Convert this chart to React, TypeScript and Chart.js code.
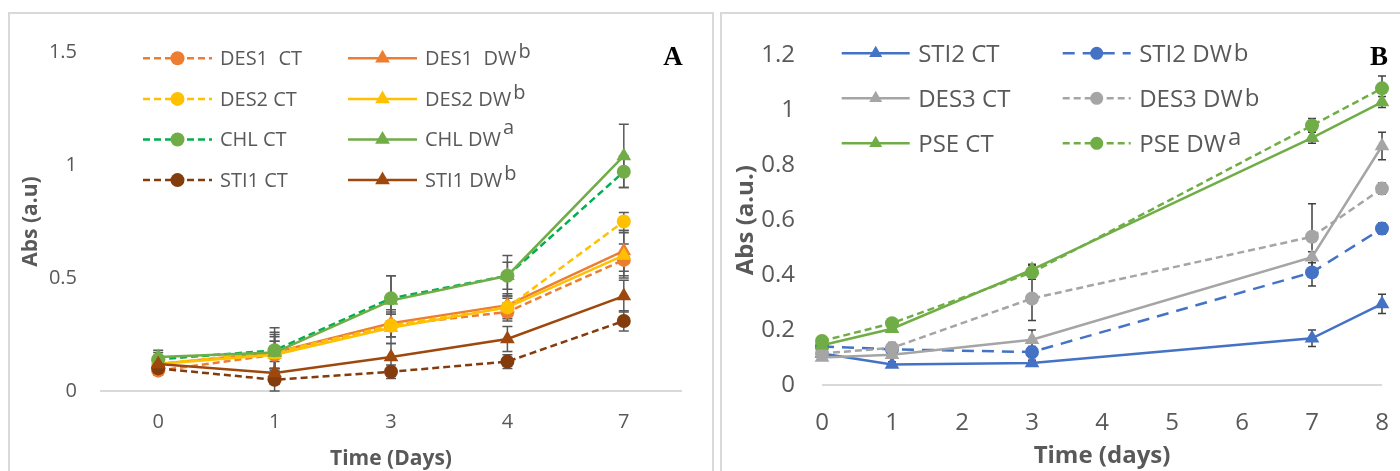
import React, { useEffect, useRef } from 'react';
import { Chart, registerables } from 'chart.js';

Chart.register(...registerables);

// ---------- Panel A data ----------
const daysA = ['0', '1', '3', '4', '7'];
const yTicksA = ['0', '0.5', '1', '1.5'];
const des1CT = [0.09, 0.16, 0.29, 0.35, 0.58];
const des1DW = [0.12, 0.17, 0.30, 0.38, 0.62];
const des2CT = [0.12, 0.17, 0.29, 0.37, 0.75];
const des2DW = [0.12, 0.16, 0.28, 0.37, 0.60];
const chlCT = [0.14, 0.18, 0.41, 0.51, 0.97];
const chlDW = [0.15, 0.17, 0.40, 0.51, 1.04];
const sti1CT = [0.10, 0.05, 0.085, 0.13, 0.31];
const sti1DW = [0.12, 0.08, 0.15, 0.23, 0.42];

const errDes1CT = [0.02, 0.06, 0.05, 0.04, 0.07];
const errDes1DW = [0.02, 0.07, 0.06, 0.05, 0.09];
const errDes2CT = [0.02, 0.08, 0.05, 0.04, 0.04];
const errDes2DW = [0.02, 0.06, 0.07, 0.05, 0.10];
const errChlCT = [0.03, 0.10, 0.10, 0.06, 0.07];
const errChlDW = [0.03, 0.09, 0.11, 0.09, 0.14];
const errSti1CT = [0.02, 0.05, 0.03, 0.03, 0.045];
const errSti1DW = [0.02, 0.05, 0.06, 0.055, 0.07];

const labelsA = ['DES1  CT', 'DES1  DW', 'DES2 CT', 'DES2 DW', 'CHL CT', 'CHL DW', 'STI1 CT', 'STI1 DW'];
const supsA = ['', 'b', '', 'b', '', 'a', '', 'b'];

// ---------- Panel B data ----------
const xB = [0, 1, 3, 7, 8];
const xTicksB = ['0', '1', '2', '3', '4', '5', '6', '7', '8'];
const yTicksB = ['0', '0.2', '0.4', '0.6', '0.8', '1', '1.2'];
const sti2CT = [0.115, 0.075, 0.08, 0.17, 0.295];
const sti2DW = [0.14, 0.13, 0.12, 0.41, 0.57];
const des3CT = [0.10, 0.11, 0.165, 0.465, 0.87];
const des3DW = [0.115, 0.135, 0.315, 0.54, 0.715];
const pseCT = [0.145, 0.205, 0.42, 0.90, 1.03];
const pseDW = [0.16, 0.225, 0.41, 0.945, 1.08];

const errSti2CT = [0.01, 0.01, 0.01, 0.03, 0.035];
const errSti2DW = [0.01, 0.01, 0.02, 0.05, 0.02];
const errDes3CT = [0.01, 0.01, 0.035, 0.02, 0.05];
const errDes3DW = [0.01, 0.02, 0.08, 0.12, 0.02];
const errPseCT = [0.01, 0.01, 0.02, 0.02, 0.02];
const errPseDW = [0.01, 0.01, 0.025, 0.025, 0.045];

const labelsB = ['STI2 CT', 'STI2 DW', 'DES3 CT', 'DES3 DW', 'PSE CT', 'PSE DW'];
const supsB = ['', 'b', '', 'b', '', 'a'];

const FONT = '"Open Sans", sans-serif';
const TXT = '#595959';

function drawMarker(ctx: CanvasRenderingContext2D, style: string, x: number, y: number, r: number, color: string) {
  ctx.fillStyle = color;
  ctx.beginPath();
  if (style === 'triangle') {
    ctx.moveTo(x, y - r);
    ctx.lineTo(x + r * Math.sin((2 * Math.PI) / 3), y - r * Math.cos((2 * Math.PI) / 3));
    ctx.lineTo(x + r * Math.sin((4 * Math.PI) / 3), y - r * Math.cos((4 * Math.PI) / 3));
    ctx.closePath();
  } else {
    ctx.arc(x, y, r, 0, Math.PI * 2);
  }
  ctx.fill();
}

const panelLegend = {
  id: 'panelLegend',
  afterDraw(chart: any, _a: any, opts: any) {
    if (!opts || !opts.items) return;
    const ctx: CanvasRenderingContext2D = chart.ctx;
    ctx.save();
    opts.items.forEach((dsIndex: number, i: number) => {
      const ds = chart.data.datasets[dsIndex];
      const col = Math.floor(i / opts.rows);
      const row = i % opts.rows;
      const x0 = opts.colX[col];
      const y = opts.top + row * opts.rowGap;
      ctx.strokeStyle = ds.borderColor;
      ctx.lineWidth = ds.borderWidth;
      ctx.setLineDash(ds.borderDash || []);
      ctx.beginPath();
      ctx.moveTo(x0, y);
      ctx.lineTo(x0 + opts.lineLen, y);
      ctx.stroke();
      ctx.setLineDash([]);
      drawMarker(ctx, ds.pointStyle, x0 + opts.lineLen / 2, y, opts.markerR[ds.pointStyle], ds.pointBackgroundColor);
      ctx.font = opts.font;
      ctx.fillStyle = opts.color;
      ctx.textAlign = 'left';
      ctx.textBaseline = 'alphabetic';
      const tx = x0 + opts.lineLen + opts.gap;
      const base = y + opts.baseOffset;
      const text = opts.texts[dsIndex];
      const sup = opts.sups[dsIndex];
      ctx.fillText(text, tx, base);
      if (sup) {
        const w = ctx.measureText(text).width;
        ctx.fillText(sup, tx + w + opts.supGap, base - opts.supRaise[sup]);
      }
    });
    ctx.restore();
  },
};

const errorBars = {
  id: 'errorBars',
  beforeDatasetsDraw(chart: any, _a: any, opts: any) {
    const ctx: CanvasRenderingContext2D = chart.ctx;
    const ys = chart.scales.y;
    ctx.save();
    ctx.strokeStyle = opts.color;
    ctx.lineWidth = opts.width;
    chart.data.datasets.forEach((ds: any, i: number) => {
      const errs = ds.errors;
      if (!errs) return;
      const meta = chart.getDatasetMeta(i);
      meta.data.forEach((pt: any, j: number) => {
        const raw = ds.data[j];
        const v = typeof raw === 'number' ? raw : raw.y;
        const e = errs[j];
        if (!e) return;
        const top = ys.getPixelForValue(v + e);
        const bot = ys.getPixelForValue(v - e);
        ctx.beginPath();
        ctx.moveTo(pt.x, top);
        ctx.lineTo(pt.x, bot);
        ctx.moveTo(pt.x - opts.cap, top);
        ctx.lineTo(pt.x + opts.cap, top);
        ctx.moveTo(pt.x - opts.cap, bot);
        ctx.lineTo(pt.x + opts.cap, bot);
        ctx.stroke();
      });
    });
    ctx.restore();
  },
};

const panelLetter = {
  id: 'panelLetter',
  afterDraw(chart: any, _a: any, opts: any) {
    const ctx: CanvasRenderingContext2D = chart.ctx;
    ctx.save();
    ctx.font = opts.font;
    ctx.fillStyle = '#000';
    ctx.textAlign = 'center';
    ctx.textBaseline = 'alphabetic';
    ctx.fillText(opts.text, opts.x, opts.y);
    ctx.restore();
  },
};

function lineDs(label: string, data: any[], errors: number[], color: string, marker: string, style: string, dash: number[], order: number, markerColor?: string) {
  const mc = markerColor || color;
  return {
    label,
    data,
    errors,
    borderColor: color,
    backgroundColor: mc,
    borderWidth: 2.5,
    borderDash: dash,
    pointStyle: style,
    pointRadius: style === 'triangle' ? 8.5 : 7,
    pointBackgroundColor: mc,
    pointBorderColor: mc,
    pointBorderWidth: 0,
    tension: 0,
    clip: false,
    order,
  };
}

function makeConfigA(): any {
  const dashCT = [7, 4];
  const datasets = [
    lineDs(labelsA[0], des1CT, errDes1CT, '#ED7D31', '', 'circle', dashCT, 7),
    lineDs(labelsA[1], des1DW, errDes1DW, '#ED7D31', '', 'triangle', [], 6),
    lineDs(labelsA[2], des2CT, errDes2CT, '#FFC000', '', 'circle', dashCT, 5),
    lineDs(labelsA[3], des2DW, errDes2DW, '#FFC000', '', 'triangle', [], 4),
    lineDs(labelsA[4], chlCT, errChlCT, '#00B050', '', 'circle', dashCT, 3, '#70AD47'),
    lineDs(labelsA[5], chlDW, errChlDW, '#70AD47', '', 'triangle', [], 2),
    lineDs(labelsA[6], sti1CT, errSti1CT, '#843C0C', '', 'circle', dashCT, 1),
    lineDs(labelsA[7], sti1DW, errSti1DW, '#9E480E', '', 'triangle', [], 0),
  ];
  return {
    type: 'line',
    data: { labels: daysA, datasets },
    plugins: [errorBars, panelLegend, panelLetter],
    options: {
      responsive: false,
      animation: false,
      events: [],
      layout: { padding: { left: 0, right: 30, top: 38, bottom: 0 } },
      plugins: {
        legend: { display: false },
        tooltip: { enabled: false },
        errorBars: { color: '#595959', width: 1.5, cap: 5 },
        panelLegend: {
          items: [0, 2, 4, 6, 1, 3, 5, 7],
          texts: labelsA,
          sups: supsA,
          rows: 4,
          colX: [133, 338],
          top: 44.3,
          rowGap: 40.6,
          lineLen: 69,
          gap: 8,
          baseOffset: 6.8,
          font: `20px ${FONT}`,
          color: TXT,
          supGap: 2,
          supRaise: { a: 12, b: 7 },
          markerR: { circle: 7, triangle: 8.5 },
        },
        panelLetter: { text: 'A', x: 663, y: 51, font: `bold 27px "Liberation Serif", serif` },
      },
      scales: {
        x: {
          type: 'category',
          offset: true,
          grid: { display: false, drawTicks: false },
          border: { display: false },
          ticks: {
            color: TXT,
            font: { family: FONT, size: 20 },
            padding: 19,
            maxRotation: 0,
            autoSkip: false,
            callback: (_v: any, i: number) => daysA[i],
          },
          title: {
            display: true,
            text: 'Time (Days)',
            color: TXT,
            font: { family: FONT, size: 21, weight: 'bold' },
            padding: { top: 0, bottom: 18.5 },
          },
          afterFit: (s: any) => {
            s.height = 99;
          },
        },
        y: {
          min: 0,
          max: 1.5,
          grid: {
            color: (c: any) => (c.tick && c.tick.value === 0 ? '#D9D9D9' : 'rgba(0,0,0,0)'),
            lineWidth: 2,
            drawTicks: false,
          },
          border: { display: false },
          ticks: {
            stepSize: 0.5,
            color: TXT,
            font: { family: FONT, size: 20 },
            padding: 23,
            callback: (_v: any, i: number) => yTicksA[i],
          },
          title: {
            display: true,
            text: 'Abs (a.u)',
            color: TXT,
            font: { family: FONT, size: 21, weight: 'bold' },
            padding: { top: 8.9, bottom: 0 },
          },
          afterFit: (s: any) => {
            s.width = 90;
          },
        },
      },
    },
  };
}

function makeConfigB(): any {
  const pts = (vals: number[]) => xB.map((x, i) => ({ x, y: vals[i] }));
  const datasets = [
    lineDs(labelsB[0], pts(sti2CT), errSti2CT, '#4472C4', '', 'triangle', [], 5),
    lineDs(labelsB[1], pts(sti2DW), errSti2DW, '#4472C4', '', 'circle', [12, 8], 4),
    lineDs(labelsB[2], pts(des3CT), errDes3CT, '#A5A5A5', '', 'triangle', [], 3),
    lineDs(labelsB[3], pts(des3DW), errDes3DW, '#A5A5A5', '', 'circle', [7, 4], 2),
    lineDs(labelsB[4], pts(pseCT), errPseCT, '#70AD47', '', 'triangle', [], 1),
    lineDs(labelsB[5], pts(pseDW), errPseDW, '#70AD47', '', 'circle', [7, 4], 0),
  ];
  return {
    type: 'line',
    data: { datasets },
    plugins: [errorBars, panelLegend, panelLetter],
    options: {
      responsive: false,
      animation: false,
      events: [],
      layout: { padding: { left: 0, right: 36, top: 33, bottom: 0 } },
      plugins: {
        legend: { display: false },
        tooltip: { enabled: false },
        errorBars: { color: '#404040', width: 1.5, cap: 4 },
        panelLegend: {
          items: [0, 2, 4, 1, 3, 5],
          texts: labelsB,
          sups: supsB,
          rows: 3,
          colX: [119.7, 340.7],
          top: 39.3,
          rowGap: 45,
          lineLen: 68,
          gap: 8.5,
          baseOffset: 9,
          font: `24px ${FONT}`,
          color: TXT,
          supGap: 2,
          supRaise: { a: 7, b: 1 },
          markerR: { circle: 6.5, triangle: 7.5 },
        },
        panelLetter: { text: 'B', x: 657, y: 51, font: `bold 27px "Liberation Serif", serif` },
      },
      scales: {
        x: {
          type: 'linear',
          min: 0,
          max: 8,
          grid: { display: false, drawTicks: false },
          border: { display: false },
          ticks: {
            stepSize: 1,
            color: TXT,
            font: { family: FONT, size: 24 },
            padding: 23.3,
            maxRotation: 0,
            autoSkip: false,
            callback: (_v: any, i: number) => xTicksB[i],
          },
          title: {
            display: true,
            text: 'Time (days)',
            color: TXT,
            font: { family: FONT, size: 24, weight: 'bold' },
            padding: { top: 0, bottom: 19.9 },
          },
          afterFit: (s: any) => {
            s.height = 105;
          },
        },
        y: {
          min: 0,
          max: 1.2,
          grid: {
            color: (c: any) => (c.tick && c.tick.value === 0 ? '#D9D9D9' : 'rgba(0,0,0,0)'),
            lineWidth: 2,
            drawTicks: false,
          },
          border: { display: false },
          ticks: {
            stepSize: 0.2,
            color: TXT,
            font: { family: FONT, size: 24 },
            padding: 27,
            callback: (_v: any, i: number) => yTicksB[i],
          },
          title: {
            display: true,
            text: 'Abs (a.u.)',
            color: TXT,
            font: { family: FONT, size: 24, weight: 'bold' },
            padding: { top: 9.6, bottom: 0 },
          },
          afterFit: (s: any) => {
            s.width = 100;
          },
        },
      },
    },
  };
}

function Panel({ left, width, makeConfig }: { left: number; width: number; makeConfig: () => any }) {
  const ref = useRef<HTMLCanvasElement | null>(null);
  useEffect(() => {
    if (!ref.current) return;
    const chart = new Chart(ref.current, makeConfig());
    return () => chart.destroy();
  }, [makeConfig]);
  return (
    <div
      style={{
        position: 'absolute',
        left,
        top: 12,
        width,
        height: 480,
        border: '2px solid #D9D9D9',
        boxSizing: 'border-box',
        background: '#fff',
      }}
    >
      <canvas ref={ref} width={width - 4} height={476} style={{ display: 'block' }} />
    </div>
  );
}

export default function App() {
  return (
    <div
      style={{
        position: 'absolute',
        left: 0,
        top: 0,
        width: 1400,
        height: 471,
        overflow: 'hidden',
        background: '#fff',
      }}
    >
      <Panel left={8} width={706} makeConfig={makeConfigA} />
      <Panel left={720} width={700} makeConfig={makeConfigB} />
    </div>
  );
}
